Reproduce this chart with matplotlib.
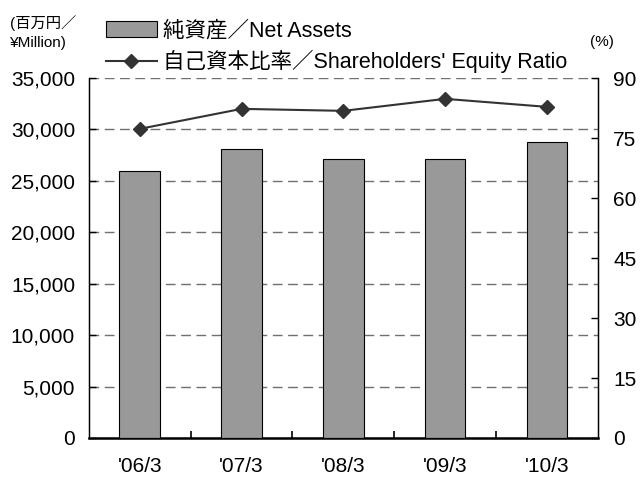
import matplotlib
matplotlib.use("Agg")
import matplotlib.pyplot as plt
from matplotlib.patches import Patch
from matplotlib.lines import Line2D

plt.rcParams['font.family'] = ['Liberation Sans', 'Noto Sans CJK JP', 'DejaVu Sans']

years = ["'06/3", "'07/3", "'08/3", "'09/3", "'10/3"]
net_assets = [26000, 28150, 27150, 27150, 28750]
equity_ratio = [77.3, 82.3, 81.8, 84.8, 82.8]

BAR_COLOR = "#999999"
LINE_COLOR = "#333333"

fig = plt.figure(figsize=(6.4, 4.78), dpi=100)
ax = fig.add_axes([0.139, 0.0837, 0.795, 0.753])
ax2 = ax.twinx()

x = list(range(len(years)))
ax.bar(x, net_assets, width=0.4, color=BAR_COLOR, edgecolor="black", linewidth=0.8, zorder=3)
ax.set_ylim(0, 35000)
ax.set_xlim(-0.5, len(years) - 0.5)
ax.set_yticks(range(0, 35001, 5000))
ax.set_yticklabels([f"{v:,}" for v in range(0, 35001, 5000)], fontsize=15)
ax.set_xticks(x)
ax.set_xticklabels(years, fontsize=15)
ax.set_xticks([i + 0.5 for i in x[:-1]], minor=True)
ax.tick_params(axis="x", which="major", length=0, pad=14)
ax.tick_params(axis="x", which="minor", direction="in", length=5, width=1.2)
ax.tick_params(axis="y", direction="in", length=5, width=1, pad=10)
for v in range(5000, 35001, 5000):
    ax.axhline(v, color="#707070", linestyle=(0, (7, 4)), linewidth=1, zorder=1)
ax.spines["top"].set_visible(False)
ax.spines["bottom"].set_linewidth(1.8)
ax.spines["left"].set_linewidth(1)

ax2.plot(x, equity_ratio, color=LINE_COLOR, marker="D", markersize=7, linewidth=1.5, zorder=4)
ax2.set_ylim(0, 90)
ax2.set_yticks(range(0, 91, 15))
ax2.tick_params(axis="y", direction="in", length=5, width=1, labelsize=15, pad=11)
ax2.spines["top"].set_visible(False)
ax2.spines["right"].set_linewidth(1)

handles = [
    Patch(facecolor=BAR_COLOR, edgecolor="black", linewidth=0.8),
    Line2D([0], [0], color=LINE_COLOR, marker="D", markersize=7, linewidth=1.5),
]
labels = ["純資産／Net Assets", "自己資本比率／Shareholders' Equity Ratio"]
fig.legend(handles, labels, loc="upper left", bbox_to_anchor=(0.165, 0.957),
           frameon=False, fontsize=15.5, handlelength=2.4, labelspacing=0.4,
           handletextpad=0.25, borderaxespad=0, borderpad=0)

fig.text(0.016, 0.968, "(百万円／\n¥Million)", fontsize=11, va="top", ha="left", linespacing=1.45)
fig.text(0.941, 0.912, "(%)", fontsize=11, va="center", ha="center")

fig.savefig("out.png", dpi=100)
